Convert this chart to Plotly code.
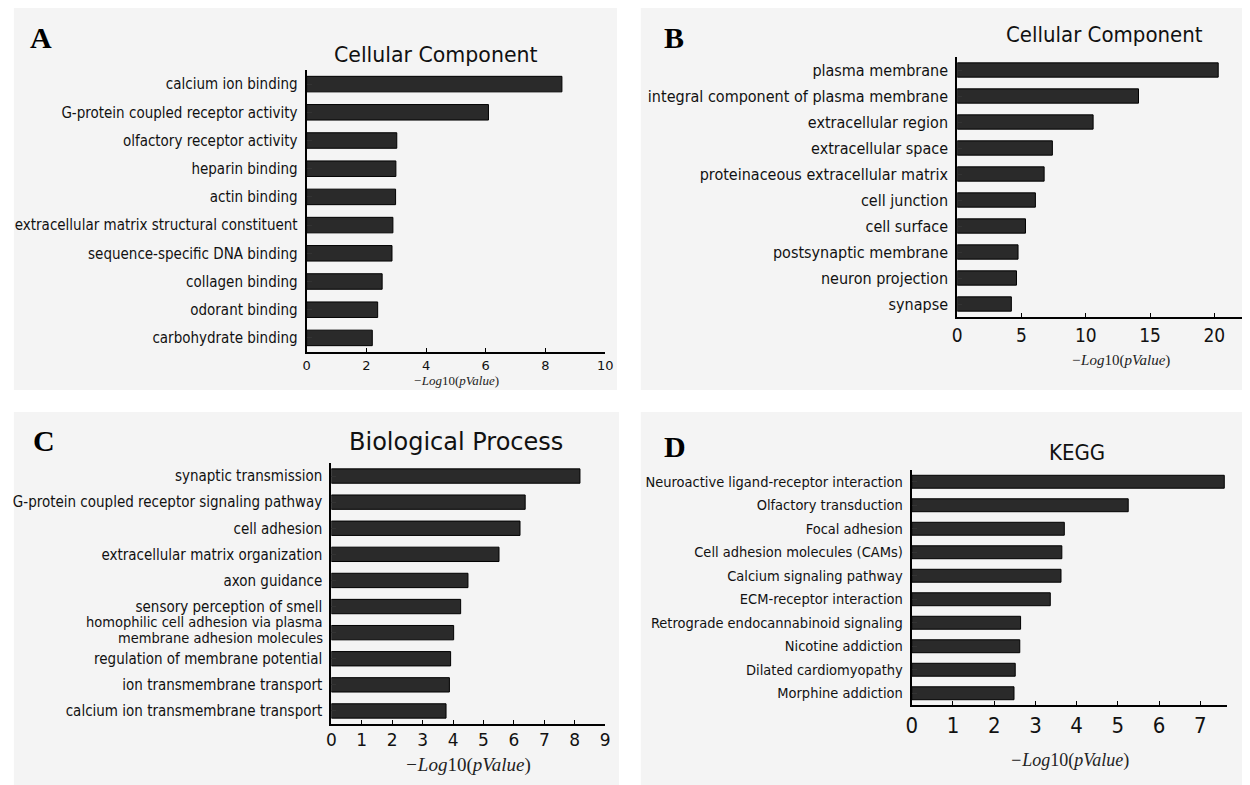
import plotly.graph_objects as go

W, H = 1250, 785

# ---------------- data ----------------
a_terms = ["calcium ion binding", "G-protein coupled receptor activity", "olfactory receptor activity",
           "heparin binding", "actin binding", "extracellular matrix structural constituent",
           "sequence-specific DNA binding", "collagen binding", "odorant binding", "carbohydrate binding"]
a_vals = [8.55, 6.09, 3.02, 2.99, 2.98, 2.89, 2.86, 2.53, 2.38, 2.20]

b_terms = ["plasma membrane", "integral component of plasma membrane", "extracellular region",
           "extracellular space", "proteinaceous extracellular matrix", "cell junction", "cell surface",
           "postsynaptic membrane", "neuron projection", "synapse"]
b_vals = [20.3, 14.1, 10.57, 7.4, 6.76, 6.08, 5.31, 4.73, 4.61, 4.21]

c_terms = ["synaptic transmission", "G-protein coupled receptor signaling pathway", "cell adhesion",
           "extracellular matrix organization", "axon guidance", "sensory perception of smell",
           "homophilic cell adhesion via plasma membrane adhesion molecules",
           "regulation of membrane potential", "ion transmembrane transport",
           "calcium ion transmembrane transport"]
c_vals = [8.17, 6.37, 6.20, 5.51, 4.49, 4.25, 4.02, 3.92, 3.88, 3.77]
c_wrapped = {"homophilic cell adhesion via plasma membrane adhesion molecules":
             ["homophilic cell adhesion via plasma", "membrane adhesion molecules"]}

d_terms = ["Neuroactive ligand-receptor interaction", "Olfactory transduction", "Focal adhesion",
           "Cell adhesion molecules (CAMs)", "Calcium signaling pathway", "ECM-receptor interaction",
           "Retrograde endocannabinoid signaling", "Nicotine addiction", "Dilated cardiomyopathy",
           "Morphine addiction"]
d_vals = [7.58, 5.25, 3.70, 3.64, 3.62, 3.36, 2.64, 2.62, 2.51, 2.48]

a_ticks = [0, 2, 4, 6, 8, 10]
b_ticks = [0, 5, 10, 15, 20]
c_ticks = [0, 1, 2, 3, 4, 5, 6, 7, 8, 9]
d_ticks = [0, 1, 2, 3, 4, 5, 6, 7]

xlabel = "<i>−Log</i>10(<i>pValue</i>)"

COND = "DejaVu Sans Condensed, Liberation Sans Narrow, DejaVu Sans, sans-serif"
WIDE = "DejaVu Sans, Verdana, sans-serif"
SERIF = "Liberation Serif, DejaVu Serif, serif"


def px_x(p):
    return p / W


def px_y(p):
    return 1 - p / H


panels = [
    dict(t=a_terms, v=a_vals, ticks=a_ticks, xr=[0, 10], xd=(304, 606), yd=(70, 352),
         yfs=15, xfs=13, xf=WIDE, lab_fs=13, lab_y=380, lab_f=SERIF),
    dict(t=b_terms, v=b_vals, ticks=b_ticks, xr=[0, 22.15], xd=(962, 1250), yd=(57, 317),
         yfs=16, xfs=19, xf=COND, lab_fs=15, lab_y=360, lab_f=SERIF),
    dict(t=c_terms, v=c_vals, ticks=c_ticks, xr=[0, 9], xd=(329, 606), yd=(463, 724),
         yfs=15, xfs=17, xf=WIDE, lab_fs=19, lab_y=765, lab_f=SERIF),
    dict(t=d_terms, v=d_vals, ticks=d_ticks, xr=[0, 7.65], xd=(916, 1235), yd=(470, 705),
         yfs=14.5, xfs=22, xf=COND, lab_fs=18, lab_y=760, lab_f=SERIF),
]

fig = go.Figure()
annotations = []
shapes = []

# panel backgrounds
for (x0, y0, x1, y1) in [(8, 8, 618, 390), (642, 8, 1250, 390), (8, 412, 620, 785), (642, 412, 1250, 785)]:
    shapes.append(dict(type="rect", xref="paper", yref="paper", x0=px_x(x0), x1=px_x(x1),
                       y0=px_y(y1), y1=px_y(y0), fillcolor="#f4f4f4", line=dict(width=0), layer="below"))

for i, p in enumerate(panels):
    n = i + 1
    xa = "x" if n == 1 else f"x{n}"
    ya = "y" if n == 1 else f"y{n}"
    fig.add_trace(go.Bar(x=p["v"], y=p["t"], orientation="h", xaxis=xa, yaxis=ya,
                         marker=dict(color="#2a2a2a", line=dict(color="#000000", width=1)),
                         width=0.55, showlegend=False, cliponaxis=False))
    xkey = "xaxis" if n == 1 else f"xaxis{n}"
    ykey = "yaxis" if n == 1 else f"yaxis{n}"
    ticktext = ["" if t in c_wrapped else t for t in p["t"]]
    fig.layout[xkey] = dict(domain=[px_x(p["xd"][0]), px_x(p["xd"][1])], anchor=ya, range=p["xr"],
                            tickvals=p["ticks"], ticks="inside", ticklen=4, tickcolor="#000",
                            showline=True, linecolor="#000", linewidth=2, showgrid=False,
                            zeroline=False, tickfont=dict(family=p["xf"], size=p["xfs"], color="#111"))
    fig.layout[ykey] = dict(domain=[px_y(p["yd"][1]), px_y(p["yd"][0])], anchor=xa,
                            type="category", categoryorder="array", categoryarray=p["t"],
                            tickmode="array", tickvals=p["t"], ticktext=ticktext,
                            range=[9.5, -0.5], ticks="inside", ticklen=5, tickcolor="#333",
                            showline=True, linecolor="#000", linewidth=2, showgrid=False,
                            zeroline=False, ticklabelstandoff=4,
                            tickfont=dict(family=COND, size=p["yfs"], color="#111"))
    annotations.append(dict(xref="paper", yref="paper",
                            x=px_x((p["xd"][0] + p["xd"][1]) / 2 if n != 2 else 1127), y=px_y(p["lab_y"]),
                            text=xlabel, showarrow=False,
                            font=dict(family=p["lab_f"], size=p["lab_fs"], color="#222"),
                            xanchor="center", yanchor="middle"))
    # wrapped (two-line) category labels with tight line spacing
    for t in p["t"]:
        if t in c_wrapped:
            idx = p["t"].index(t)
            step = (p["yd"][1] - p["yd"][0]) / len(p["t"])
            yc = p["yd"][0] + (idx + 0.5) * step - 2.5
            for k, line in enumerate(c_wrapped[t]):
                annotations.append(dict(xref="paper", yref="paper", x=px_x(p["xd"][0] - 6),
                                        y=px_y(yc + (k - 0.5) * 16), text=line, showarrow=False,
                                        xanchor="right", yanchor="middle",
                                        font=dict(family=COND, size=14.5, color="#111")))

# titles
titles = [("Cellular Component", 435, 55, WIDE, 20.5), ("Cellular Component", 1111, 35, COND, 22),
          ("Biological Process", 455, 442, WIDE, 24), ("KEGG", 1083, 452, COND, 22)]
for txt, x, y, fam, fs in titles:
    annotations.append(dict(xref="paper", yref="paper", x=px_x(x), y=px_y(y), text=txt,
                            showarrow=False, xanchor="center", yanchor="middle",
                            font=dict(family=fam, size=fs, color="#111")))

# panel letters
for txt, x, y in [("A", 35, 38), ("B", 676, 38), ("C", 38, 440), ("D", 677, 446)]:
    annotations.append(dict(xref="paper", yref="paper", x=px_x(x), y=px_y(y), text=f"<b>{txt}</b>",
                            showarrow=False, xanchor="center", yanchor="middle",
                            font=dict(family="Liberation Serif, Times New Roman, serif", size=30, color="#000")))

fig.update_layout(width=W, height=H, margin=dict(l=0, r=0, t=0, b=0),
                  paper_bgcolor="#ffffff", plot_bgcolor="rgba(0,0,0,0)",
                  annotations=annotations, shapes=shapes)

fig.write_html("out.html", config={"displayModeBar": False},
               post_script=("document.documentElement.style.margin='0px';"
                            "document.documentElement.style.overflow='hidden';"
                            "document.body.style.margin='0px';document.body.style.overflow='hidden';"))
